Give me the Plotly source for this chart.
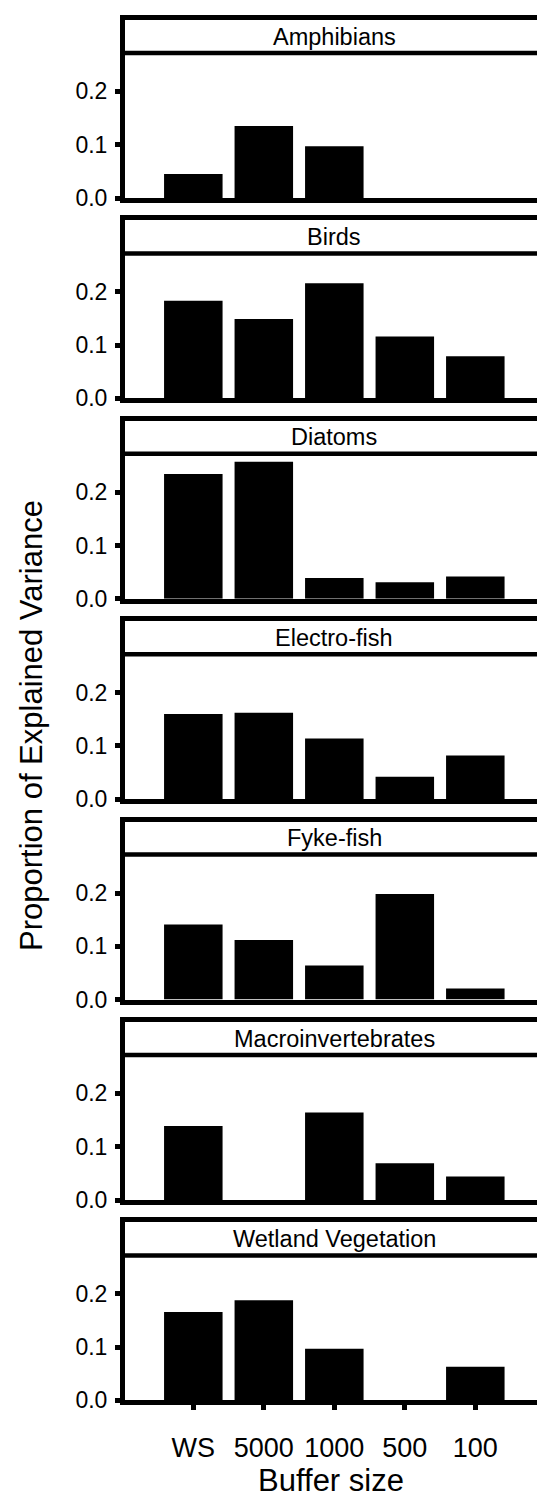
import plotly.graph_objects as go

# ---------------- data ----------------
buffers = ["WS", "5000", "1000", "500", "100"]
taxa = ["Amphibians", "Birds", "Diatoms", "Electro-fish", "Fyke-fish",
        "Macroinvertebrates", "Wetland Vegetation"]
amphibians = [0.045, 0.135, 0.097, None, None]
birds = [0.183, 0.149, 0.216, 0.116, 0.079]
diatoms = [0.234, 0.257, 0.039, 0.031, 0.042]
electro_fish = [0.160, 0.162, 0.114, 0.042, 0.082]
fyke_fish = [0.141, 0.112, 0.064, 0.198, 0.021]
macroinvertebrates = [0.139, None, 0.164, 0.069, 0.044]
wetland_vegetation = [0.166, 0.188, 0.097, None, 0.063]
series = [amphibians, birds, diatoms, electro_fish, fyke_fish,
          macroinvertebrates, wetland_vegetation]
y_tick_vals = [0.0, 0.1, 0.2]
y_tick_text = ["0.0", "0.1", "0.2"]
x_title = "Buffer size"
y_title = "Proportion of Explained Variance"

# ---------------- geometry ----------------
W, H = 537, 1498
ML = 125
PX_PER_UNIT = 533.0
PERIOD = 200.4
BASE0 = 200.5      # centre of first baseline (px)
TOP0 = 17.5        # centre of first strip top line (px)
LW = 5
STRIP_BOTTOM = 0.272
STRIP_TEXT = 0.303
FONT = "Liberation Sans, Arial, Helvetica, sans-serif"

x_range = [-0.969, -0.969 + (W - ML) / 70.5]

fig = go.Figure()
n = len(taxa)
for k in range(n):
    idx = "" if k == 0 else str(k + 1)
    dom_bot_px = BASE0 + PERIOD * k - LW / 2
    dom_top_px = TOP0 + PERIOD * k + LW / 2
    y_top = (dom_bot_px - dom_top_px) / PX_PER_UNIT
    fig.add_trace(go.Bar(
        x=buffers, y=series[k], width=0.83,
        marker=dict(color="black", line=dict(width=0)),
        xaxis="x" + idx, yaxis="y" + idx, showlegend=False,
        hoverinfo="x+y",
    ))
    last = (k == n - 1)
    fig.layout["xaxis" + idx] = dict(
        domain=[0, 1], anchor="y" + idx, type="category",
        categoryorder="array", categoryarray=buffers,
        range=x_range, showline=True, linecolor="black", linewidth=LW,
        mirror=True, showgrid=False, zeroline=False,
        ticks="outside" if last else "", ticklen=5, tickwidth=5,
        tickcolor="black",
        showticklabels=last,
        tickfont=dict(family=FONT, size=27, color="black"),
        ticklabelstandoff=14,
        title=dict(text=x_title if last else "",
                   font=dict(family=FONT, size=31, color="black"),
                   standoff=8),
        automargin=False, fixedrange=True,
    )
    fig.layout["yaxis" + idx] = dict(
        domain=[1 - dom_bot_px / H, 1 - dom_top_px / H],
        anchor="x" + idx, range=[0, y_top],
        showline=True, linecolor="black", linewidth=LW, mirror=False,
        showgrid=False, zeroline=False,
        tickmode="array", tickvals=y_tick_vals, ticktext=y_tick_text,
        ticks="outside", ticklen=5, tickwidth=5, tickcolor="black",
        tickfont=dict(family=FONT, size=23, color="black"),
        ticklabelstandoff=3,
        automargin=False, fixedrange=True,
    )
    # strip separator line
    fig.add_shape(type="line", xref="x" + idx + " domain", yref="y" + idx,
                  x0=0, x1=1, y0=STRIP_BOTTOM, y1=STRIP_BOTTOM,
                  line=dict(color="black", width=4.5))
    # strip label
    fig.add_annotation(xref="x" + idx, yref="y" + idx, x=2, y=STRIP_TEXT,
                       text=taxa[k], showarrow=False,
                       xanchor="center", yanchor="middle",
                       font=dict(family=FONT, size=23.5, color="black"))

fig.add_annotation(xref="paper", yref="paper",
                   x=(31 - ML) / (W - ML), y=1 - 726 / H,
                   text=y_title, textangle=-90, showarrow=False,
                   xanchor="center", yanchor="middle",
                   font=dict(family=FONT, size=31, color="black"))

fig.update_layout(
    width=W, height=H,
    margin=dict(l=ML, r=0, t=0, b=0, pad=0),
    paper_bgcolor="white", plot_bgcolor="white",
    bargap=0.17,
    font=dict(family=FONT, color="black"),
)

fig.write_html("out.html")
